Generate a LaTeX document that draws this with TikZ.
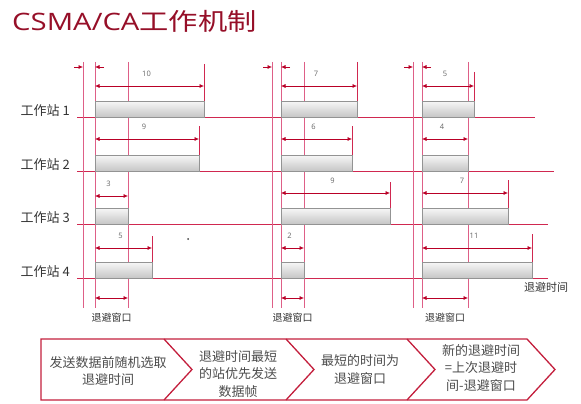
\documentclass[tikz,border=0pt]{standalone}
\usepackage{fontspec}
\setmainfont{Open Sans}
\newfontfamily\cjk{Noto Sans CJK SC}
\usetikzlibrary{arrows.meta}
\definecolor{titlered}{RGB}{150,15,40}
\definecolor{vpink}{RGB}{222,95,135}
\definecolor{hred}{RGB}{208,40,80}
\definecolor{arrowred}{RGB}{185,0,38}
\definecolor{bandred}{RGB}{195,30,60}

\begin{document}
\begin{tikzpicture}[x=1pt, y=-1pt, >={Latex[length=4.5pt,width=4pt]}]
        \tikzstyle{vline}=[vpink, line width=0.8pt]
        \tikzstyle{hline}=[hred, line width=0.8pt]
        \tikzstyle{dim}=[arrowred, line width=0.6pt, <->]
        \tikzstyle{endtick}=[hred, line width=0.8pt]
        \tikzstyle{barbox}=[draw=gray!85, line width=0.5pt, top color=gray!6, bottom color=gray!45]
        \tikzstyle{numlabel}=[font=\fontsize{7.5}{8}\selectfont, text=gray!80!black, inner sep=0pt]
        \tikzstyle{station}=[font=\cjk\fontsize{13}{15}\selectfont, text=black!80, inner sep=0pt, anchor=base east]
        \tikzstyle{winlabel}=[font=\cjk\fontsize{10}{12}\selectfont, text=black!80, inner sep=0pt]
        \tikzstyle{proctext}=[font=\cjk\fontsize{13}{17.5}\selectfont, text=black!70, align=center, inner sep=0pt]

        \useasboundingbox (0,0) rectangle (581,404);

        % Title
        \node[anchor=base west, xscale=1.22, text=titlered, inner sep=0pt,
              font=\fontsize{24}{28}\selectfont] (title) at (12,30.5) {CSMA/CA{\cjk 工作机制}};

        % Station lines and labels
        \foreach \y/\xe/\k in {117/535/1, 171/554/2, 224/548/3, 278/548/4} {
            \draw[hline] (77,\y) -- (\xe,\y);
            \node[station] (st\k) at (70,\y-2) {工作站 \k};
        }

        % Vertical time marks (gap, start, window end)
        \foreach \x in {83,95,128,272,281,304,413,422,468}
            \draw[vline] (\x,62) -- (\x,308);

        % Gap arrows at the top
        \foreach \xo/\xi in {83/95, 272/281, 413/422} {
            \draw[arrowred, line width=0.6pt, ->] (\xo-9,67) -- (\xo,67);
            \draw[arrowred, line width=0.6pt, ->] (\xi+9,67) -- (\xi,67);
        }

        % Backoff bars: start / end / station line / arrow y / tick top / value
        \foreach \xs/\xe/\yb/\ya/\yt/\n in {
                95/204/117/86/64/10, 95/199/171/139/126/9, 95/128/224/196/208/3, 95/152/278/248/236/5,
                281/357/117/86/62/7, 281/352/171/139/126/6, 281/390/224/193/182/9, 281/304/278/248/262/2,
                422/474/117/86/72/5, 422/468/171/139/155/4, 422/508/224/193/180/7, 422/532/278/248/234/11} {
            \draw[barbox] (\xs,\yb-16) rectangle (\xe,\yb);
            \draw[endtick] (\xe,\yt) -- (\xe,\yb-16);
            \draw[dim] (\xs,\ya) -- (\xe,\ya);
            \node[numlabel] at ({(\xs+\xe)/2-3},\ya-12) {\n};
        }

        % Backoff window under each round
        \foreach \xs/\xe/\k in {95/128/1, 281/304/2, 422/468/3} {
            \draw[dim] (\xs,298) -- (\xe,298);
            \node[winlabel] (win\k) at ({(\xs+\xe)/2},318) {退避窗口};
        }
        \node[winlabel, font=\cjk\fontsize{11}{13}\selectfont] (axis) at (546,287) {退避时间};
        \fill[gray!50!black] (188,239) circle (1pt);

        % Process band
        \draw[bandred, line width=1.3pt] (41,339) -- (527,339) -- (555,369.5) -- (527,400) -- (41,400) -- cycle;
        \foreach \x in {164,286,407}
            \draw[bandred, line width=1.3pt] (\x,339) -- (\x+28,369.5) -- (\x,400);
        \node[proctext] (proc1) at (108,371) {发送数据前随机选取\\退避时间};
        \node[proctext] (proc2) at (238,374) {退避时间最短\\的站优先发送\\数据帧};
        \node[proctext] (proc3) at (360,369.5) {最短的时间为\\退避窗口};
        \node[proctext] (proc4) at (481,368) {新的退避时间\\=上次退避时\\间-退避窗口};
\end{tikzpicture}
\end{document}
